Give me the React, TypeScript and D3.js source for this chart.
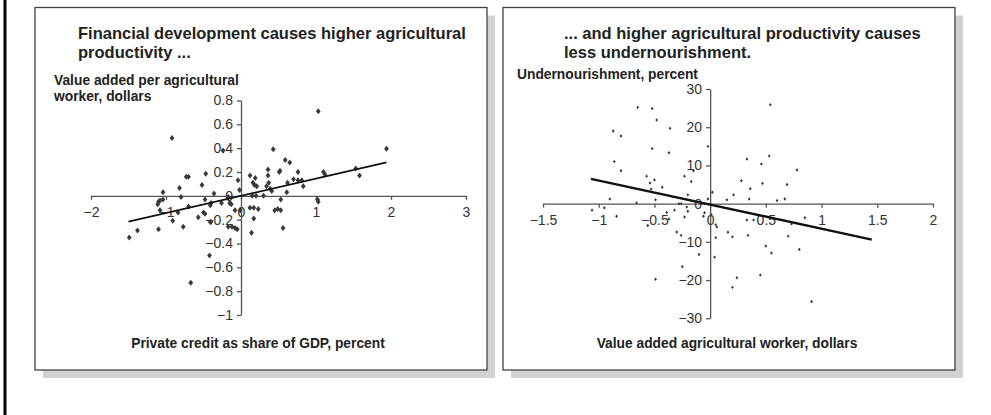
import React, { useEffect, useRef } from 'react';
import * as d3 from 'd3';

// Left panel: private credit (x) vs value added per agricultural worker (y)
const creditX = [
  -1.49, -1.38, -1.1, -1.1, -1.08, -1.04, -1.11, -1.08, -1.04, -0.92, -0.91, -0.84, -0.82, -0.8, -0.77,
  -0.73, -0.7, -0.7, -0.67, -0.57, -0.52, -0.47, -0.48, -0.5, -0.48, -0.41, -0.4, -0.41, -0.4, -0.42,
  -0.36, -0.26, -0.24, -0.17, -0.15, -0.13, -0.08, -0.04, -0.02, -0.01, -0.17, -0.12, -0.08, -0.05,
  0.12, 0.19, 0.16, 0.18, 0.21, 0.15, 0.2, 0.12, 0.17, 0.23, 0.17, 0.14, 0.3, 0.36, 0.36, 0.37, 0.51,
  0.52, 0.34, 0.39, 0.41, 0.43, 0.45, 0.49, 0.53, 0.53, 0.56, 0.59, 0.65, 0.61, 0.62, 0.7, 0.76, 0.76,
  0.81, 0.83, 1.03, 1.02, 1.03, 1.1, 1.12, 1.53, 1.58, 1.94,
];
const productivityY = [
  -0.35, -0.29, -0.28, -0.05, -0.04, -0.03, -0.07, -0.12, 0.03, 0.485, -0.21, -0.14, 0.065, -0.01, -0.26,
  0.16, 0.16, -0.09, -0.73, -0.18, 0.09, 0.185, -0.03, -0.14, -0.15, -0.08, -0.06, -0.22, -0.22, -0.5,
  0.02, -0.06, 0.38, -0.01, -0.06, -0.07, -0.12, 0.13, 0.05, -0.12, -0.26, -0.26, -0.27, -0.28,
  0.17, 0.15, 0.11, 0.09, 0.08, 0.0, 0.0, -0.1, -0.1, -0.11, -0.19, -0.31, 0.0, 0.22, 0.17, 0.11, 0.2,
  0.21, 0.08, 0.06, 0.04, 0.39, -0.12, -0.11, -0.12, -0.03, -0.27, 0.3, 0.28, 0.03, 0.11, 0.14, 0.2, 0.13,
  0.13, 0.08, 0.71, -0.03, -0.05, 0.2, 0.18, 0.23, 0.17, 0.395,
];
const creditFitX = [-1.5, 1.94];
const creditFitY = [-0.216, 0.28];
const creditTicks = [-2, -1, 0, 1, 2, 3];
const productivityTicks = [-1, -0.8, -0.6, -0.4, -0.2, 0, 0.2, 0.4, 0.6, 0.8];

// Right panel: value added per worker (x) vs undernourishment (y)
const valueAddedX = [
  -0.65, -0.52, -0.48, -0.36, -0.87, -0.8, -0.52, -0.37, -0.02, -0.86, -0.8, -0.57, -0.54, -0.5, -0.53,
  -0.43, -0.23, -0.15, -0.17, -0.2, -0.9, -0.66, -0.49, -0.28, -0.26, -0.02, 0.02, -1.06, -0.95, -0.84,
  -0.56, -0.39, -0.37, -0.32, -0.23, -0.21, -0.2, -0.3, -0.26, -0.1, -0.25, -0.49, -0.06, -0.05, 0.01,
  0.05, 0.06, 0.05, 0.04, 0.16, 0.2, 0.15, 0.21, 0.28, 0.33, 0.36, 0.35, 0.33, 0.39, 0.34, 0.46, 0.47,
  0.53, 0.54, 0.6, 0.67, 0.69, 0.78, 0.73, 0.7, 0.85, 0.5, 0.55, 0.8, 0.45, 0.24, 0.2, 0.91,
];
const undernourishY = [
  25.2, 24.9, 21.9, 19.7, 19.0, 17.7, 14.4, 13.3, 15.0, 11.0, 8.6, 7.2, 5.4, 6.2, 3.8,
  4.3, 7.2, 8.6, 5.8, 2.3, 1.2, 0.2, 1.0, 0.0, 0.0, 1.2, 3.0, -1.7, -1.1, -3.3,
  -5.7, -2.3, -4.0, -1.7, -3.5, -0.9, -2.0, -7.4, -8.3, -13.3, -16.5, -19.8, -3.3, -2.4, -2.9,
  -5.5, -6.1, -8.9, -14.0, -7.5, -8.7, 1.0, 2.3, 6.0, 11.7, 3.9, 1.2, -4.3, -4.3, -8.3, 10.4, 5.3,
  12.5, 25.9, 0.8, 1.2, 5.0, 8.8, -5.3, -8.5, -3.7, -11.1, -12.9, -12.0, -18.7, -19.4, -21.9, -25.6,
];
const valueFitX = [-1.07, 1.45];
const valueFitY = [6.5, -9.4];
const valueTicks = [-1.5, -1, -0.5, 0, 0.5, 1, 1.5, 2];
const undernourishTicks = [-30, -20, -10, 0, 10, 20, 30];

const FONT = "'Liberation Sans', Arial, Helvetica, sans-serif";

interface Panel {
  box: [number, number, number, number];
  title: string[];
  titleX: number;
  yLabel: string[];
  yLabelX: number;
  yLabelY: number;
  xLabel: string;
  xLabelCx: number;
  xDomain: [number, number];
  xRange: [number, number];
  yDomain: [number, number];
  yRange: [number, number];
  xs: number[];
  ys: number[];
  fitX: number[];
  fitY: number[];
  xTicks: number[];
  yTicks: number[];
  rx: number;
  ry: number;
  fitWidth: number;
}

const panels: Panel[] = [
  {
    box: [35, 7.5, 487, 370],
    title: ['Financial development causes higher agricultural', 'productivity ...'],
    titleX: 78,
    yLabel: ['Value added per agricultural', 'worker, dollars'],
    yLabelX: 54,
    yLabelY: 85,
    xLabel: 'Private credit as share of GDP, percent',
    xLabelCx: 258,
    xDomain: [-2, 3],
    xRange: [91, 466],
    yDomain: [-1, 0.8],
    yRange: [315, 100.5],
    xs: creditX,
    ys: productivityY,
    fitX: creditFitX,
    fitY: creditFitY,
    xTicks: creditTicks,
    yTicks: productivityTicks,
    rx: 2.4,
    ry: 3.0,
    fitWidth: 1.8,
  },
  {
    box: [503, 7.5, 955, 370],
    title: ['... and higher agricultural productivity causes', 'less undernourishment.'],
    titleX: 564,
    yLabel: ['Undernourishment, percent'],
    yLabelX: 517,
    yLabelY: 78.5,
    xLabel: 'Value added agricultural worker, dollars',
    xLabelCx: 727,
    xDomain: [-1.5, 2],
    xRange: [543, 933],
    yDomain: [-30, 30],
    yRange: [318.3, 89],
    xs: valueAddedX,
    ys: undernourishY,
    fitX: valueFitX,
    fitY: valueFitY,
    xTicks: valueTicks,
    yTicks: undernourishTicks,
    rx: 1.4,
    ry: 1.7,
    fitWidth: 2.4,
  },
];

function drawPanel(svg: d3.Selection<SVGSVGElement, unknown, null, undefined>, p: Panel) {
  const [x0, y0, x1, y1] = p.box;
  const g = svg.append('g');

  // drop shadow + frame
  g.append('rect')
    .attr('x', x0 + 8).attr('y', y0 + 8)
    .attr('width', x1 - x0).attr('height', y1 - y0)
    .attr('fill', '#d2d2d2');
  g.append('rect')
    .attr('x', x0).attr('y', y0)
    .attr('width', x1 - x0).attr('height', y1 - y0)
    .attr('fill', '#fff')
    .attr('stroke', '#444')
    .attr('stroke-width', 1.3);

  const x = d3.scaleLinear().domain(p.xDomain).range(p.xRange);
  const y = d3.scaleLinear().domain(p.yDomain).range(p.yRange);
  const fmt = d3.format('~g');

  const xAxis = g.append('g')
    .attr('transform', `translate(0,${y(0)})`)
    .call(d3.axisBottom(x).tickValues(p.xTicks).tickFormat(d => fmt(d as number))
      .tickSize(4).tickSizeOuter(0).tickPadding(7));
  const yAxis = g.append('g')
    .attr('transform', `translate(${x(0)},0)`)
    .call(d3.axisLeft(y).tickValues(p.yTicks).tickFormat(d => fmt(d as number))
      .tickSize(4).tickSizeOuter(0).tickPadding(4));

  [xAxis, yAxis].forEach(a => {
    a.attr('font-family', FONT).attr('font-size', 14).attr('color', '#555');
    a.selectAll('path, line').attr('stroke-width', 1.3);
    a.selectAll('text').attr('fill', '#333');
  });

  // markers
  const diamond = `M0,${-p.ry}L${p.rx},0L0,${p.ry}L${-p.rx},0Z`;
  g.append('g')
    .selectAll('path')
    .data(p.xs.map((v, i) => [v, p.ys[i]]))
    .join('path')
    .attr('d', diamond)
    .attr('transform', d => `translate(${x(d[0])},${y(d[1])})`)
    .attr('fill', '#3a3a3a');

  // fitted line
  const line = d3.line<number>().x(d => x(d)).y((_, i) => y(p.fitY[i]));
  g.append('path')
    .attr('d', line(p.fitX))
    .attr('fill', 'none')
    .attr('stroke', '#111')
    .attr('stroke-width', p.fitWidth);

  // texts
  p.title.forEach((t, i) => {
    g.append('text').text(t)
      .attr('x', p.titleX).attr('y', 38.5 + i * 19)
      .attr('font-family', FONT).attr('font-size', 16.5).attr('font-weight', 'bold')
      .attr('fill', '#222');
  });
  p.yLabel.forEach((t, i) => {
    g.append('text').text(t)
      .attr('x', p.yLabelX).attr('y', p.yLabelY + i * 16)
      .attr('font-family', FONT).attr('font-size', 13.8).attr('font-weight', 'bold')
      .attr('fill', '#222');
  });
  g.append('text').text(p.xLabel)
    .attr('x', p.xLabelCx).attr('y', 348)
    .attr('text-anchor', 'middle')
    .attr('font-family', FONT).attr('font-size', 13.8).attr('font-weight', 'bold')
    .attr('fill', '#222');
}

const App: React.FC = () => {
  const svgRef = useRef<SVGSVGElement>(null);

  useEffect(() => {
    if (!svgRef.current) return;
    const svg = d3.select(svgRef.current);
    svg.selectAll('*').remove();

    svg.append('rect').attr('width', 991).attr('height', 415).attr('fill', '#fff');
    // page edge on the left
    svg.append('rect').attr('x', 3.5).attr('y', 0).attr('width', 3).attr('height', 415).attr('fill', '#000');

    panels.forEach(p => drawPanel(svg, p));
  }, []);

  return (
    <svg
      ref={svgRef}
      width={991}
      height={415}
      style={{ position: 'absolute', left: 0, top: 0, display: 'block' }}
    />
  );
};

export default App;
